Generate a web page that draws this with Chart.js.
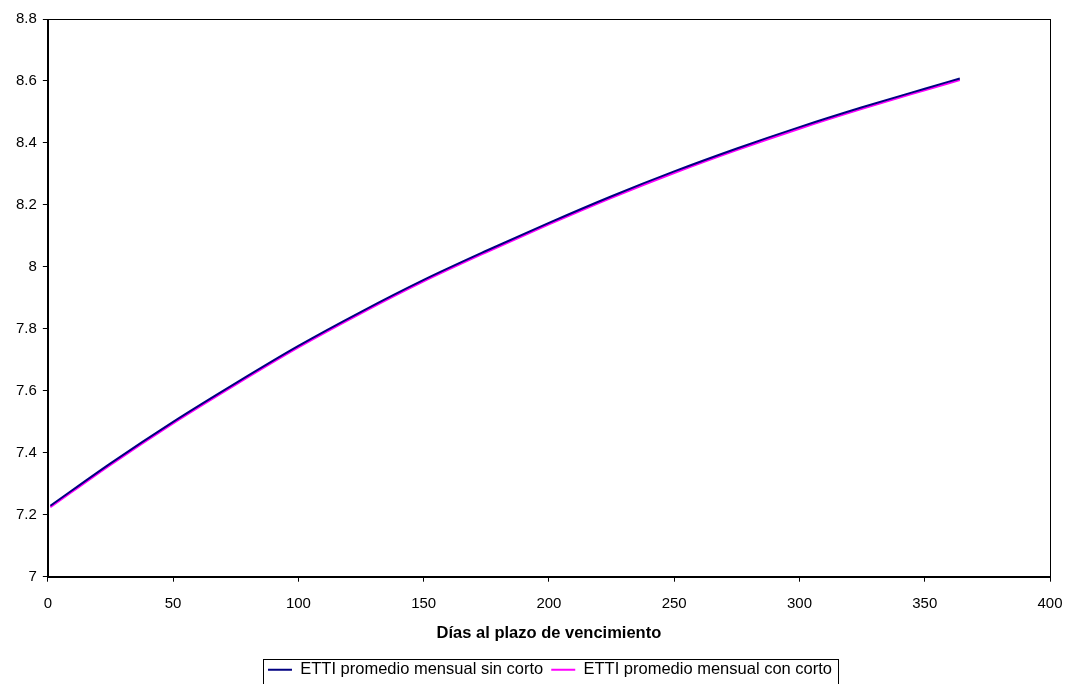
<!DOCTYPE html>
<html>
<head>
<meta charset="utf-8">
<script src="https://cdn.jsdelivr.net/npm/chart.js@4.4.0/dist/chart.umd.min.js"></script>
<style>
  body { margin: 0; background: #fff; }
  #wrap { width: 1069px; height: 684px; }
</style>
</head>
<body>
<div id="wrap"><canvas id="myChart" width="1069" height="684"></canvas></div>
<script>
// days to maturity and the two monthly-average curves
const dias = [1, 25, 50, 75, 100, 125, 150, 175, 200, 225, 250, 275, 300, 325, 350, 364]
const sinCorto = [7.229, 7.366, 7.500, 7.625, 7.745, 7.855, 7.958, 8.052, 8.142, 8.228, 8.308, 8.382, 8.451, 8.515, 8.575, 8.608]
const conCorto = [7.224, 7.361, 7.495, 7.620, 7.740, 7.850, 7.953, 8.047, 8.137, 8.223, 8.303, 8.377, 8.446, 8.510, 8.570, 8.603]
const yTicks = [7, 7.2, 7.4, 7.6, 7.8, 8, 8.2, 8.4, 8.6, 8.8]
const xTicks = [0, 50, 100, 150, 200, 250, 300, 350, 400]

function toPoints(xs, ys) {
  const pts = []
  for (let i = 0; i < xs.length; i++) {
    pts.push({ x: xs[i], y: ys[i] })
  }
  return pts
}

Chart.defaults.font.family = '"Liberation Sans", Arial, sans-serif'
Chart.defaults.font.size = 15
Chart.defaults.color = '#000'

// legend sits centred under the plot area, not the whole canvas
const legendShift = {
  id: 'legendShift',
  afterLayout(chart) {
    const lg = chart.legend
    const a = chart.chartArea
    const shift = Math.round((a.left + a.right) / 2 - (lg.left + lg.right) / 2) + 1
    lg.left += shift
    lg.right += shift
    lg.legendHitBoxes.forEach(b => { b.left += shift })
  }
}

// black frame round the plot area and round the legend
const frames = {
  id: 'frames',
  afterDraw(chart) {
    const ctx = chart.ctx
    const a = chart.chartArea
    ctx.save()
    ctx.strokeStyle = '#000'
    ctx.lineWidth = 1
    ctx.strokeRect(Math.round(a.left) + 0.5, Math.round(a.top) + 0.5, Math.round(a.right - a.left), Math.round(a.bottom - a.top))
    const boxes = chart.legend.legendHitBoxes
    if (boxes && boxes.length) {
      const first = boxes[0]
      const last = boxes[boxes.length - 1]
      const l = Math.round(first.left - 5) + 0.5
      const r = Math.round(last.left + last.width + 6) + 0.5
      const t = Math.round(first.top - 3) + 0.5
      ctx.strokeRect(l, t, r - l, 40)
    }
    ctx.restore()
  }
}

const ctx = document.getElementById('myChart').getContext('2d')
const myChart = new Chart(ctx, {
  type: 'line',
  data: {
    datasets: [{
      label: 'ETTI promedio mensual sin corto',
      data: toPoints(dias, sinCorto),
      borderColor: '#000080',
      backgroundColor: '#000080',
      borderWidth: 2,
      pointRadius: 0,
      cubicInterpolationMode: 'monotone'
    }, {
      label: 'ETTI promedio mensual con corto',
      data: toPoints(dias, conCorto),
      borderColor: '#ff00ff',
      backgroundColor: '#ff00ff',
      borderWidth: 2,
      pointRadius: 0,
      cubicInterpolationMode: 'monotone'
    }]
  },
  options: {
    responsive: false,
    animation: false,
    layout: {
      padding: { top: 19, right: 19, left: 10, bottom: -4 }
    },
    plugins: {
      tooltip: { enabled: false },
      legend: {
        position: 'bottom',
        labels: {
          usePointStyle: true,
          pointStyle: 'line',
          pointStyleWidth: 24,
          padding: 8,
          font: { size: 16.5 },
          color: '#000'
        }
      }
    },
    scales: {
      x: {
        type: 'linear',
        min: 0,
        max: 400,
        afterBuildTicks(axis) { axis.ticks = xTicks.map(v => ({ value: v })) },
        afterFit(axis) { axis.paddingRight = 0 },
        grid: { drawOnChartArea: false, drawTicks: true, tickLength: 5, color: '#000' },
        border: { color: '#000' },
        ticks: { padding: 13, maxRotation: 0 },
        title: {
          display: true,
          text: 'Días al plazo de vencimiento',
          font: { weight: 'bold', size: 16.5 },
          padding: { top: -2, bottom: 10 }
        }
      },
      y: {
        min: 7,
        max: 8.8,
        afterBuildTicks(axis) { axis.ticks = yTicks.map(v => ({ value: v })) },
        grid: { drawOnChartArea: false, drawTicks: true, tickLength: 5, color: '#000' },
        border: { color: '#000' },
        ticks: {
          padding: 6,
          callback: v => String(Number(v.toFixed(1)))
        }
      }
    }
  },
  plugins: [legendShift, frames]
})
</script>
</body>
</html>
